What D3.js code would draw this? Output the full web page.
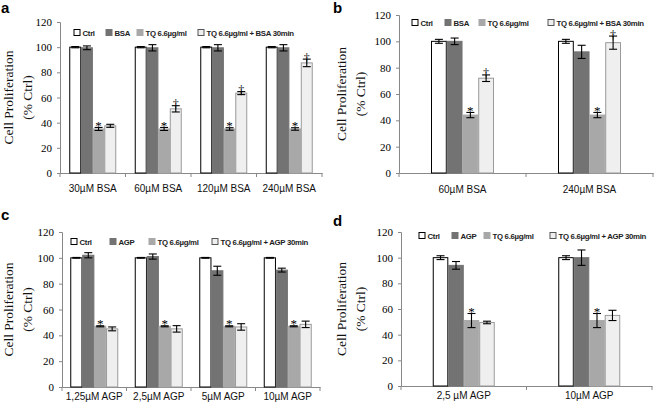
<!DOCTYPE html>
<html><head><meta charset="utf-8">
<script src="https://cdn.jsdelivr.net/npm/d3@7"></script>
<style>body{margin:0;background:#fff}svg{display:block}</style>
</head><body><svg id="c" width="658" height="407"></svg>
<script>
// ---- data ----
const seriesA = ["Ctrl", "BSA", "TQ 6.6µg/ml", "TQ 6.6µg/ml + BSA  30min"];
const seriesC = ["Ctrl", "AGP", "TQ 6.6µg/ml", "TQ 6.6µg/ml + AGP  30min"];
const yTicks = [0, 20, 40, 60, 80, 100, 120];

const catsA = ["30µM BSA", "60µM BSA", "120µM BSA", "240µM BSA"];
const valsA = [[100,100,100,100],[99.5,99.5,99.5,99.5],[35,35,35,35],[37.5,51,63.5,87.5]];
const errsA = [[0.5,0.5,0.5,0.5],[1.5,2.5,2.5,2.5],[1.2,1.2,1,1],[1.2,2.5,1.2,3]];
const markA = [["","","",""],["","","",""],["*","*","*","*"],["","†","†","†"]];

const catsB = ["60µM BSA", "240µM BSA"];
const valsB = [[100,100],[100,92],[44,44],[72,99]];
const errsB = [[1.5,1.5],[2.5,5],[2,2],[2.5,5]];
const markB = [["",""],["",""],["*","*"],["†","†"]];

const catsC = ["1,25µM AGP", "2,5µM AGP", "5µM AGP", "10µM AGP"];
const valsC = [[100,100,100,100],[102,101,90,90.5],[47,47,47,47],[45,45,46.5,48.5]];
const errsC = [[0.3,0.3,0.3,0.3],[2,2,3.5,1.5],[0.4,0.4,0.4,0.4],[1.5,2.5,2.5,2.5]];
const markC = [["","","",""],["","","",""],["*","*","*","*"],["","","",""]];

const catsD = ["2,5 µM AGP", "10µM AGP"];
const valsD = [[100,100],[94,100],[51,51],[49.5,55]];
const errsD = [[1.5,1.5],[3,6],[5.5,5.5],[1,4]];
const markD = [["",""],["",""],["*","*"],["",""]];

const fills = ["#ffffff", "#737373", "#a8a8a8", "#efefef"];
const strokes = ["#000000", "#737373", "#a8a8a8", "#9a9a9a"];
const legStrokes = ["#000000", "#737373", "#a8a8a8", "#555555"];

const svg = d3.select("#c");

function panel(o) {
  const g = svg.append("g");
  const y = d3.scaleLinear().domain([0, 120]).range([o.y0, o.y1]);
  const x = d3.scaleBand().domain(o.cats).range([o.x0, o.x1]);
  const xs = d3.scaleBand().domain(d3.range(4)).range([0, o.gw]).paddingInner(0.06);

  g.append("text").attr("x", o.lx).attr("y", o.ly).text(o.letter)
    .attr("font-family", "Liberation Sans, Arial, sans-serif").attr("font-weight", "bold").attr("font-size", 15);

  const ya = g.append("g").attr("transform", `translate(${o.x0},0)`)
    .call(d3.axisLeft(y).tickValues(yTicks).tickSize(3).tickPadding(5));
  ya.select(".domain").attr("stroke", "#888");
  ya.selectAll(".tick line").attr("stroke", "#888");
  ya.selectAll("text").attr("font-family", "Liberation Serif, Times New Roman, serif").attr("font-size", 11).attr("fill", "#000");

  const xa = g.append("g").attr("transform", `translate(0,${o.y0})`)
    .call(d3.axisBottom(x).tickSize(0).tickPadding(o.xpad));
  xa.select(".domain").attr("stroke", "#888");
  xa.selectAll("text").attr("font-family", "Liberation Sans, Arial, sans-serif").attr("font-size", 10).attr("fill", "#111");
  const bounds = o.cats.map(c => x(c)).concat([o.x1]);
  g.selectAll(".sep").data(bounds).join("line")
    .attr("x1", d => d).attr("x2", d => d).attr("y1", o.y0).attr("y2", o.y0 + 4).attr("stroke", "#888");

  const cy = (o.y0 + o.y1) / 2;
  const yl = g.append("text").attr("transform", `translate(${o.labx},${cy}) rotate(-90)`)
    .attr("text-anchor", "middle").attr("font-family", "Liberation Serif, Times New Roman, serif")
    .attr("font-weight", "normal").attr("font-size", 13.5).attr("fill", "#111");
  yl.append("tspan").attr("x", 0).attr("dy", 0).text("Cell  Proliferation");
  yl.append("tspan").attr("x", 0).attr("dy", 19).text("(% Ctrl)");

  o.vals.forEach((sv, si) => {
    sv.forEach((v, ci) => {
      const bx = x(o.cats[ci]) + (x.bandwidth() - o.gw) / 2 + xs(si);
      const bw = xs.bandwidth();
      g.append("rect").attr("x", bx).attr("y", y(v)).attr("width", bw).attr("height", y(0) - y(v))
        .attr("fill", fills[si]).attr("stroke", strokes[si]).attr("stroke-width", 1);
      const e = o.errs[si][ci];
      const cx = bx + bw / 2, cw = Math.min(4, bw / 2 - 1);
      const gg = g.append("g").attr("stroke", "#000").attr("stroke-width", 1.1);
      gg.append("line").attr("x1", cx).attr("x2", cx).attr("y1", y(v - e)).attr("y2", y(v + e));
      gg.append("line").attr("x1", cx - cw).attr("x2", cx + cw).attr("y1", y(v - e)).attr("y2", y(v - e));
      gg.append("line").attr("x1", cx - cw).attr("x2", cx + cw).attr("y1", y(v + e)).attr("y2", y(v + e));
      const m = o.marks[si][ci];
      if (m) {
        g.append("text").attr("x", cx).attr("y", y(v + e) + (m === "*" ? 2.5 : 2.5))
          .attr("text-anchor", "middle").attr("font-family", "Liberation Serif, serif")
          .attr("fill", "#000").attr("font-size", m === "*" ? 13 : 12).text(m);
      }
    });
  });

  o.legend.forEach((name, i) => {
    const lx = o.legx[i];
    g.append("rect").attr("x", lx).attr("y", o.legy - 3.5).attr("width", 6).attr("height", 6)
      .attr("fill", fills[i]).attr("stroke", legStrokes[i]);
    g.append("text").attr("x", lx + 8.5).attr("y", o.legy + 2.8).text(name)
      .attr("font-family", "Liberation Sans, Arial, sans-serif").attr("font-size", 7.8)
      .attr("font-weight", "bold").attr("letter-spacing", -0.3).attr("fill", "#222");
  });
}

panel({letter: "a", lx: 1, ly: 13, cats: catsA, vals: valsA, errs: errsA, marks: markA, xpad: 12,
  x0: 60, x1: 322, y0: 173, y1: 22, gw: 46, labx: 13, legend: seriesA, legy: 33, legx: [74, 106, 137, 198]});
panel({letter: "b", lx: 333, ly: 13, cats: catsB, vals: valsB, errs: errsB, marks: markB, xpad: 13,
  x0: 399, x1: 653, y0: 173, y1: 15, gw: 62, labx: 346, legend: seriesA, legy: 23, legx: [412, 445, 479, 548]});
panel({letter: "c", lx: 1, ly: 220, cats: catsC, vals: valsC, errs: errsC, marks: markC, xpad: 6,
  x0: 62, x1: 320, y0: 387, y1: 232, gw: 47, labx: 13, legend: seriesC, legy: 242, legx: [71, 110, 149, 212]});
panel({letter: "d", lx: 333, ly: 226, cats: catsD, vals: valsD, errs: errsD, marks: markD, xpad: 6,
  x0: 401, x1: 652, y0: 386, y1: 232, gw: 61, labx: 346, legend: seriesC, legy: 236, legx: [419, 452, 484, 550]});
</script></body></html>
